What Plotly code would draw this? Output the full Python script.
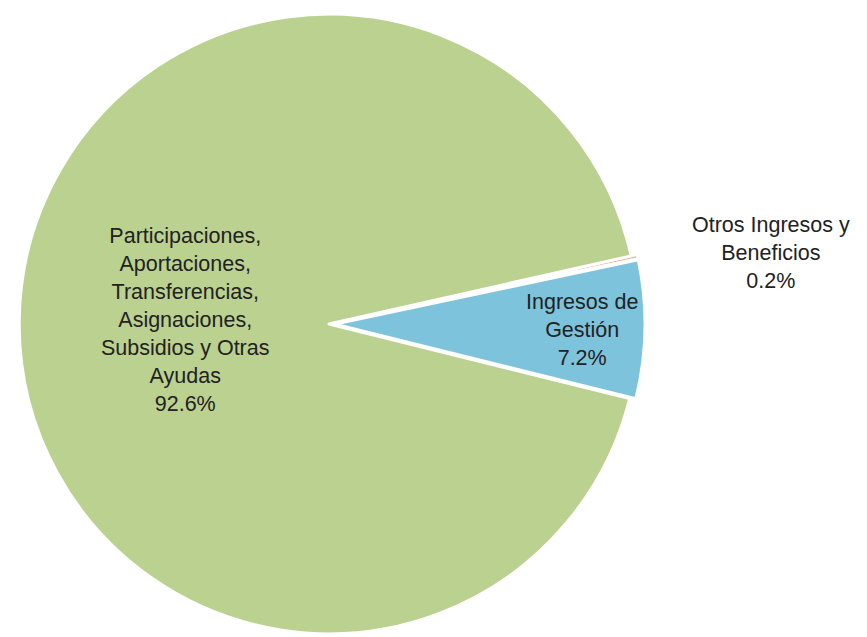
import plotly.graph_objects as go

labels = ["Otros Ingresos y Beneficios", "Ingresos de Gestión",
          "Participaciones, Aportaciones, Transferencias, Asignaciones, Subsidios y Otras Ayudas"]
values = [0.2, 7.2, 92.6]
label_lines = ["Otros Ingresos y<br>Beneficios",
               "Ingresos de<br>Gestión",
               "Participaciones,<br>Aportaciones,<br>Transferencias,<br>Asignaciones,<br>Subsidios y Otras<br>Ayudas"]
colors = ["#E79A8A", "#7EC3DC", "#BBD190"]
pulls = [0.02, 0.02, 0]

fig = go.Figure(go.Pie(
    labels=labels, values=values, sort=False, direction="clockwise",
    rotation=77.3, pull=pulls,
    marker=dict(colors=colors, line=dict(color="white", width=3)),
    textinfo="none", hoverinfo="label+percent",
    domain=dict(x=[0.00577, 0.7347], y=[0.00785, 1]),
    showlegend=False,
))

pos = [(0.880, 0.615), (0.662, 0.4945), (0.204, 0.510)]
for txt, v, (x, y) in zip(label_lines, values, pos):
    fig.add_annotation(x=x, y=y, xref="paper", yref="paper",
                       xanchor="center", yanchor="middle",
                       text=f"{txt}<br>{v:.1f}%", showarrow=False,
                       font=dict(family="Liberation Sans, Arial", size=21.5, color="#222222"),
                       align="center")

fig.update_layout(width=867, height=637, margin=dict(l=0, r=0, t=0, b=0),
                  paper_bgcolor="white", plot_bgcolor="white")
fig.write_html("out.html")
